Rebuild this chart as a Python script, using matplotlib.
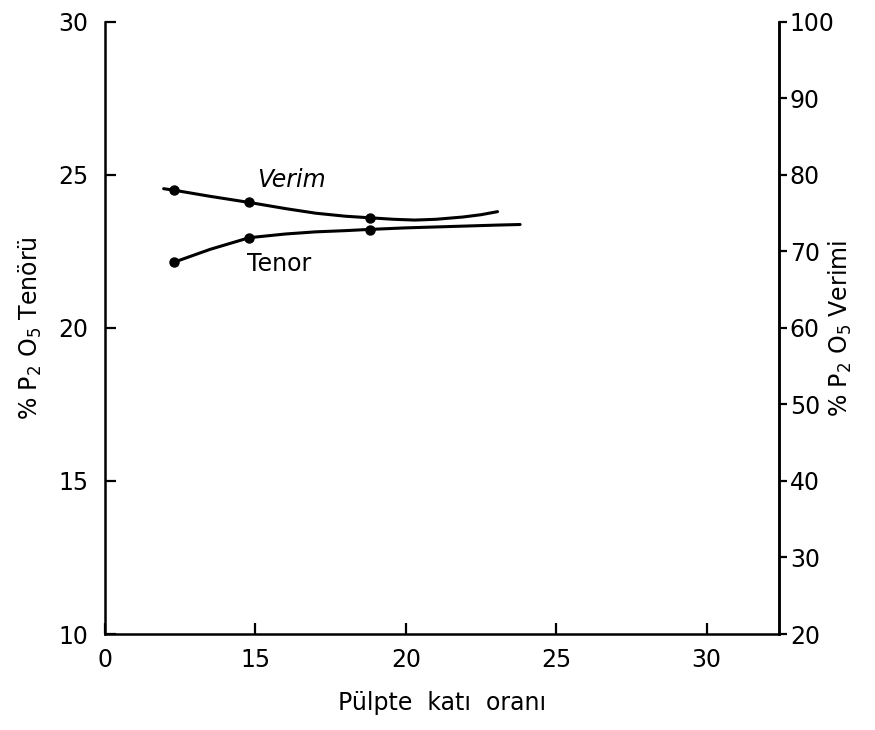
import matplotlib.pyplot as plt

plt.rcParams['font.family'] = ['DejaVu Sans']
plt.rcParams['mathtext.fontset'] = 'dejavusans'

# values
x_ticks = [10, 15, 20, 25, 30]
x_tick_labels = ['0', '15', '20', '25', '30']
tenor_ticks = [10, 15, 20, 25, 30]
verim_ticks = [20, 30, 40, 50, 60, 70, 80, 90, 100]

# measured points
pt_x = [12.3, 14.8, 18.8]
tenor_pts = [22.15, 22.95, 23.2]
verim_pts = [78.0, 76.4, 74.4]

# hand-drawn curves
verim_curve_x = [11.95, 12.3, 13.5, 14.8, 16.0, 17.0, 18.0, 18.8, 19.6, 20.3, 21.0, 21.9, 22.5, 23.05]
verim_curve_y = [78.2, 78.0, 77.2, 76.4, 75.6, 75.0, 74.6, 74.4, 74.2, 74.1, 74.2, 74.5, 74.8, 75.2]
tenor_curve_x = [12.3, 13.5, 14.8, 16.0, 17.0, 18.0, 18.8, 20.0, 21.0, 22.0, 23.0, 23.8]
tenor_curve_y = [22.15, 22.57, 22.95, 23.07, 23.14, 23.18, 23.22, 23.27, 23.3, 23.33, 23.36, 23.38]

fig = plt.figure(figsize=(8.75, 7.3), dpi=100)
ax = fig.add_axes([0.12, 0.1315, 0.77, 0.8385])
ax2 = ax.twinx()

ax.plot(tenor_curve_x, tenor_curve_y, color='black', lw=2.2, solid_capstyle='round')
ax.plot(pt_x, tenor_pts, 'o', color='black', ms=6.5)
ax2.plot(verim_curve_x, verim_curve_y, color='black', lw=2.2, solid_capstyle='round')
ax2.plot(pt_x, verim_pts, 'o', color='black', ms=6.5)

ax.set_xlim(10, 32.4)
ax.set_ylim(10, 30)
ax2.set_ylim(20, 100)

ax.set_xticks(x_ticks)
ax.set_xticklabels(x_tick_labels)
ax.set_yticks(tenor_ticks)
ax2.set_yticks(verim_ticks)

for a in (ax, ax2):
    a.spines['top'].set_visible(False)
    for s in a.spines.values():
        s.set_linewidth(1.8)
ax2.spines['left'].set_visible(False)
ax2.spines['bottom'].set_visible(False)

ax.tick_params(axis='x', direction='in', length=8, width=1.6, labelsize=17, pad=10)
ax.tick_params(axis='y', direction='in', length=8, width=1.6, labelsize=17, pad=12)
ax2.tick_params(axis='y', direction='out', length=6, width=1.6, labelsize=17, pad=2)

ax.text(16.2, 24.85, 'Verim', style='italic', fontsize=17, ha='center', va='center')
ax.text(15.8, 22.1, 'Tenor', fontsize=17, ha='center', va='center')

ax.set_xlabel('Pülpte  katı  oranı', fontsize=17, labelpad=14)
ax.set_ylabel('% P$_2$ O$_5$ Tenörü', fontsize=17)
ax2.set_ylabel('% P$_2$ O$_5$ Verimi', fontsize=17)
ax.yaxis.set_label_coords(-0.09, 0.5)
ax2.yaxis.set_label_coords(1.072, 0.5)

fig.savefig('out.png', dpi=100)
